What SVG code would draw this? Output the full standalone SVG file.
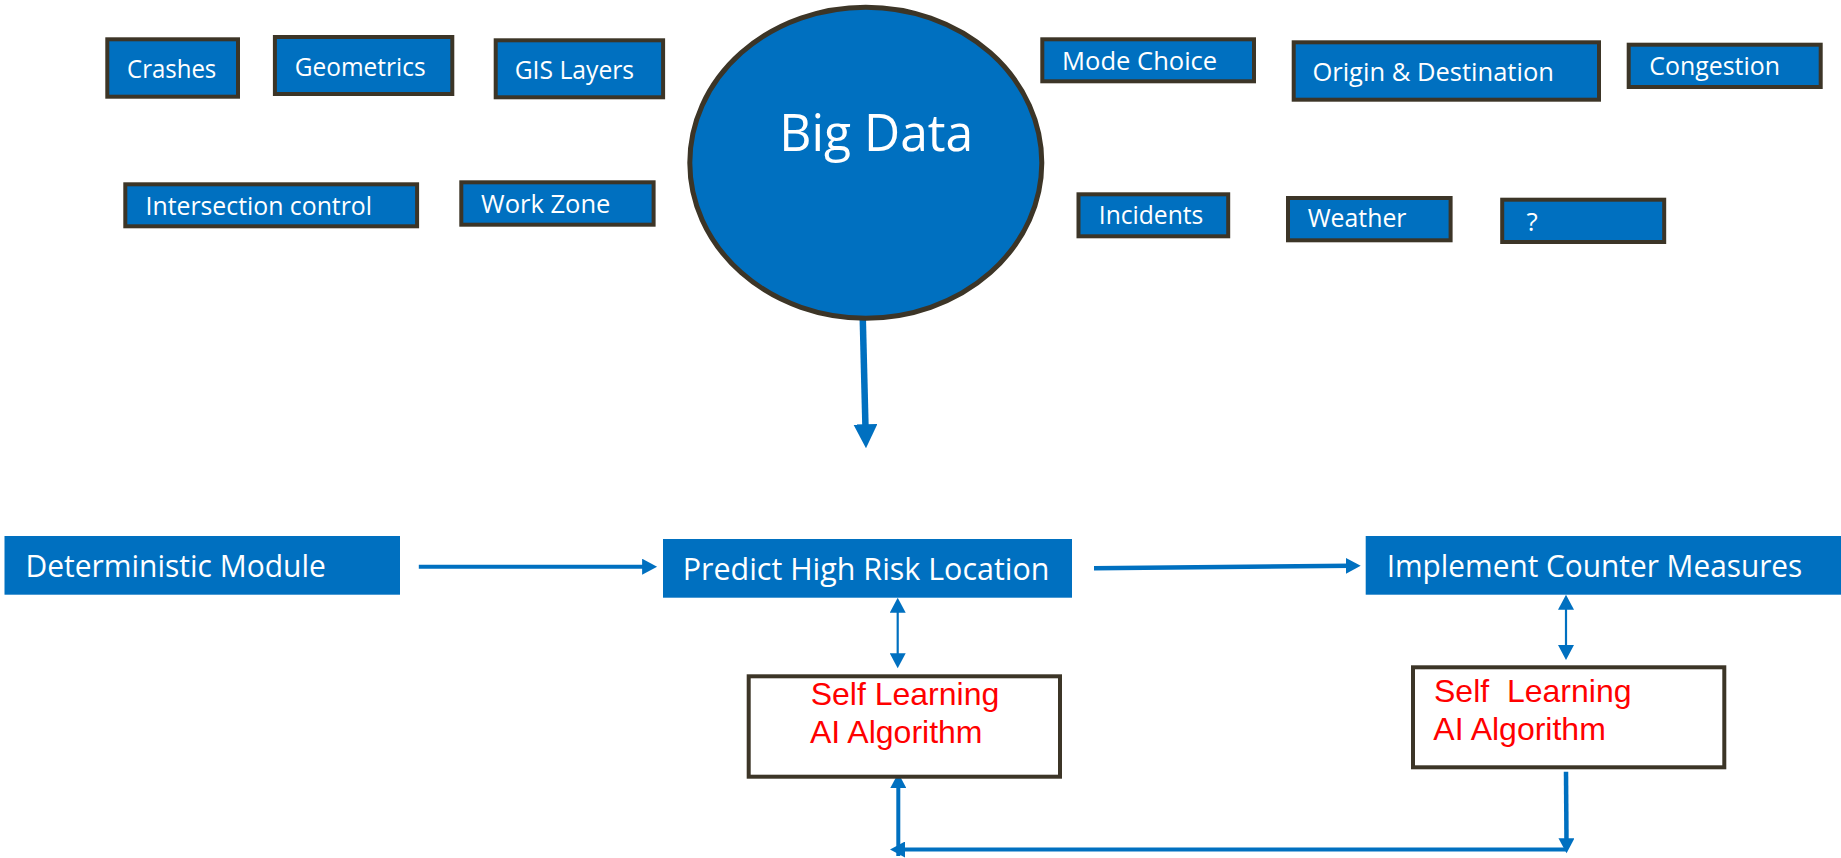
<svg xmlns="http://www.w3.org/2000/svg" width="1841" height="858" viewBox="0 0 1841 858">
<style>
.tag{fill:#0070C0;stroke:#3C3527;stroke-width:4}
.tt{font-family:"Open Sans","Noto Sans",sans-serif;font-size:26px;fill:#ffffff}
.blk{fill:#0070C0}
.bt{font-family:"Open Sans","Noto Sans",sans-serif;font-size:31px;fill:#ffffff}
.ai{fill:#ffffff;stroke:#3C3527;stroke-width:4}
.rt{font-family:"Liberation Sans",Arial,sans-serif;font-size:32px;fill:#FF0000}
.cn{fill:none;stroke:#0070C0}
</style>
<defs>
<marker id="ah" markerUnits="userSpaceOnUse" markerWidth="16" markerHeight="16" refX="5" refY="8" orient="auto-start-reverse" viewBox="0 0 16 16">
<path d="M0,0 L15,8 L0,16 z" fill="#0070C0"/>
</marker>
<marker id="ahBig" markerUnits="userSpaceOnUse" markerWidth="24" markerHeight="24" refX="4" refY="12" orient="auto" viewBox="0 0 24 24">
<path d="M0,0 L24,12 L0,24 z" fill="#0070C0"/>
</marker>
</defs>

<g id="connectors">
<line class="cn" x1="862.7" y1="316" x2="865.5" y2="428.3" stroke-width="6.5" marker-end="url(#ahBig)"/>
<line class="cn" x1="418.8" y1="566.7" x2="647.1" y2="566.7" stroke-width="4" marker-end="url(#ah)"/>
<line class="cn" x1="1094" y1="568.3" x2="1350.7" y2="565.8" stroke-width="4.5" marker-end="url(#ah)"/>
<line class="cn" x1="897.7" y1="607.7" x2="897.7" y2="658.3" stroke-width="2.2" marker-start="url(#ah)" marker-end="url(#ah)"/>
<line class="cn" x1="1566" y1="604.7" x2="1566" y2="650" stroke-width="2.2" marker-start="url(#ah)" marker-end="url(#ah)"/>
<line class="cn" x1="1566" y1="771.7" x2="1566.5" y2="843.3" stroke-width="4.5" marker-end="url(#ah)"/>
<line class="cn" x1="1566" y1="849.5" x2="900" y2="849.5" stroke-width="4" marker-end="url(#ah)"/>
<line class="cn" x1="898.3" y1="856" x2="898.3" y2="783" stroke-width="4" marker-end="url(#ah)"/>
</g>

<g id="crashes"><rect class="tag" x="107.3" y="39.3" width="130.7" height="57.4"/><text class="tt" x="127.1" y="78.3" textLength="89.2" lengthAdjust="spacingAndGlyphs">Crashes</text></g>
<g id="geometrics"><rect class="tag" x="274.9" y="37" width="177.4" height="57"/><text class="tt" x="294.7" y="76" textLength="130.9" lengthAdjust="spacingAndGlyphs">Geometrics</text></g>
<g id="gis-layers"><rect class="tag" x="495.7" y="40.3" width="167.4" height="57"/><text class="tt" x="514.7" y="79.3" textLength="119.4" lengthAdjust="spacingAndGlyphs">GIS Layers</text></g>
<g id="intersection-control"><rect class="tag" x="125.3" y="184.3" width="291.8" height="42"/><text class="tt" x="145.5" y="215" textLength="226.5" lengthAdjust="spacingAndGlyphs">Intersection control</text></g>
<g id="work-zone"><rect class="tag" x="461.3" y="182.3" width="192.3" height="42.4"/><text class="tt" x="481.1" y="212.7" textLength="129.3" lengthAdjust="spacingAndGlyphs">Work Zone</text></g>

<g id="big-data"><ellipse cx="865.8" cy="162.7" rx="176" ry="155.5" fill="#0070C0" stroke="#3C3527" stroke-width="5"/><text x="779.3" y="150.7" font-family="'Open Sans','Noto Sans',sans-serif" font-size="52" fill="#ffffff" textLength="194" lengthAdjust="spacingAndGlyphs">Big Data</text></g>

<g id="mode-choice"><rect class="tag" x="1042.3" y="39.3" width="211.7" height="42"/><text class="tt" x="1062.1" y="70" textLength="155.1" lengthAdjust="spacingAndGlyphs">Mode Choice</text></g>
<g id="origin-destination"><rect class="tag" x="1293.7" y="42.3" width="305.3" height="57.4"/><text class="tt" x="1312.4" y="81" textLength="241.5" lengthAdjust="spacingAndGlyphs">Origin &amp; Destination</text></g>
<g id="congestion"><rect class="tag" x="1628.7" y="44.7" width="192" height="42.3"/><text class="tt" x="1649.3" y="75" textLength="130.7" lengthAdjust="spacingAndGlyphs">Congestion</text></g>
<g id="incidents"><rect class="tag" x="1078.5" y="194.3" width="149.7" height="42"/><text class="tt" x="1098.8" y="224" textLength="104.5" lengthAdjust="spacingAndGlyphs">Incidents</text></g>
<g id="weather"><rect class="tag" x="1288" y="198" width="162.6" height="42.3"/><text class="tt" x="1307.7" y="227.3" textLength="98.8" lengthAdjust="spacingAndGlyphs">Weather</text></g>
<g id="unknown"><rect class="tag" x="1502.2" y="199.7" width="162" height="42.3"/><text class="tt" x="1526.5" y="230.7">?</text></g>

<g id="deterministic-module"><rect class="blk" x="4.5" y="536" width="395.5" height="58.7"/><text class="bt" x="25.4" y="577.3" textLength="300.5" lengthAdjust="spacingAndGlyphs">Deterministic Module</text></g>
<g id="predict-high-risk"><rect class="blk" x="663" y="539" width="409" height="58.7"/><text class="bt" x="682.7" y="580" textLength="366.7" lengthAdjust="spacingAndGlyphs">Predict High Risk Location</text></g>
<g id="implement-counter"><rect class="blk" x="1365.7" y="536" width="475.3" height="58.7"/><text class="bt" x="1386.7" y="576.7" textLength="415.6" lengthAdjust="spacingAndGlyphs">Implement Counter Measures</text></g>

<g id="self-learning-1"><rect class="ai" x="748.7" y="676.3" width="311.3" height="100.4"/><text class="rt" x="810.7" y="705">Self Learning</text><text class="rt" x="810" y="743.3">AI Algorithm</text></g>
<g id="self-learning-2"><rect class="ai" x="1413" y="667.3" width="311.3" height="100"/><text class="rt" x="1434" y="701.7" xml:space="preserve">Self  Learning</text><text class="rt" x="1433.3" y="740">AI Algorithm</text></g>
</svg>
